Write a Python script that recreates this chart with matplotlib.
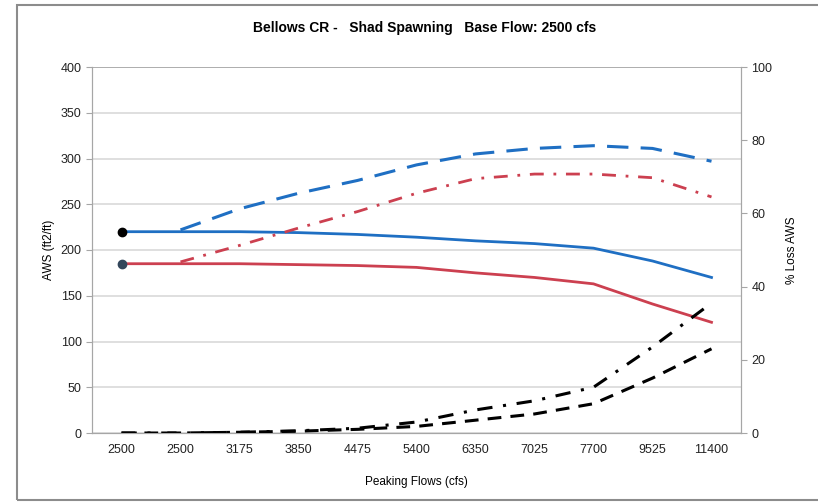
import numpy as np
import matplotlib.pyplot as plt
from matplotlib.patches import Rectangle

plt.rcParams.update({'font.family': 'Liberation Sans', 'font.size': 9})

flows = ['2500', '2500', '3175', '3850', '4475', '5400', '6350', '7025', '7700', '9525', '11400']

# AWS (left axis)
aws_blue = [220, 220, 220, 219, 217, 214, 210, 207, 202, 188, 170]
aws_red = [185, 185, 185, 184, 183, 181, 175, 170, 163, 141, 121]
aws_blue_dash = [np.nan, 222, 245, 262, 276, 293, 305, 311, 314, 311, 297]
aws_red_dashdot = [np.nan, 187, 205, 224, 242, 262, 278, 283, 283, 279, 258]

# % Loss AWS (right axis)
loss_dash = [0, 0, 0.2, 0.5, 1.0, 1.8, 3.5, 5.2, 8.0, 15.0, 23.0]
loss_dashdot = [0, 0, 0.2, 0.6, 1.3, 3.0, 6.3, 8.8, 12.5, 23.5, 35.5]

BLUE = '#1F6FC3'
RED = '#CC4050'
GRID = '#D9D9D9'
SPINE = '#A6A6A6'

fig = plt.figure(figsize=(8.18, 5.03), dpi=100)
fig.patches.append(Rectangle((17/818, 3/503), 1.0, 495/503, transform=fig.transFigure,
                             fill=False, edgecolor='#8C8C8C', linewidth=1.5))
ax = fig.add_axes([92/818, 1 - 433/503, (741 - 92)/818, (433 - 67)/503])
ax2 = ax.twinx()

x = np.arange(len(flows))
ax.plot(x, aws_blue, color=BLUE, lw=2.0, zorder=3)
ax.plot(x, aws_red, color=RED, lw=2.0, zorder=3)
ax.plot(x[0], aws_blue[0], 'o', color='black', ms=6, zorder=4)
ax.plot(x[0], aws_red[0], 'o', color='#33475B', ms=6, zorder=4)
ax.plot(x, aws_blue_dash, color=BLUE, lw=2.2, dashes=(7, 4), zorder=3)
ax.plot(x, aws_red_dashdot, color=RED, lw=2.0, dashes=(5, 3.5, 1, 3.5), zorder=3)

ax2.plot(x, loss_dash, color='black', lw=2.2, dashes=(4.5, 3), zorder=3)
ax2.plot(x, loss_dashdot, color='black', lw=2.2, dashes=(5, 3.5, 1, 3.5), zorder=3)

ax.set_xlim(-0.5, len(flows) - 0.5)
ax.set_ylim(0, 400)
ax.set_yticks(range(0, 401, 50))
ax2.set_ylim(0, 100)
ax2.set_yticks(range(0, 101, 20))
ax.set_xticks(x)
ax.set_xticklabels(flows)
ax.yaxis.grid(True, color=GRID, lw=1.2)
ax.set_axisbelow(True)

for a in (ax, ax2):
    for s in a.spines.values():
        s.set_color(SPINE)
    a.spines['top'].set_visible(False)
    a.tick_params(colors=SPINE, labelcolor='#222222', length=4, labelsize=9)
ax.tick_params(axis='x', length=0, pad=8)
ax.axhline(400, color=SPINE, lw=1.2, zorder=1)

ax.set_ylabel('AWS (ft2/ft)', fontsize=8.5, labelpad=4)
ax2.set_ylabel('% Loss AWS', fontsize=8.5, rotation=90, labelpad=10)
ax.set_xlabel('Peaking Flows (cfs)', fontsize=8.5, labelpad=14)
fig.text(425/818, 1 - 28/503, 'Bellows CR -   Shad Spawning   Base Flow: 2500 cfs',
         ha='center', va='center', fontsize=10, fontweight='bold')

fig.savefig('out.png', dpi=100)
